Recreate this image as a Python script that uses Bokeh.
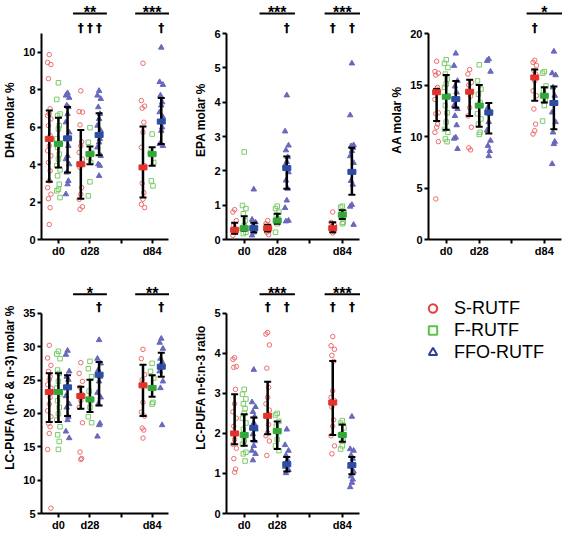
from bokeh.plotting import figure
from bokeh.models import Range1d, FixedTicker, Legend, LegendItem
from bokeh.layouts import column, row
from bokeh.embed import file_html
from bokeh.resources import INLINE
from bokeh.core.properties import value

FONT = "Liberation Sans"
DAG_FONT = "DejaVu Sans"

days = ["d0", "d28", "d84"]
groups = ["S-RUTF", "F-RUTF", "FFO-RUTF"]

# ---------------- DHA ----------------
dha_s = [[9.87, 9.45, 9.34, 8.59, 6.98, 6.71, 6.62, 6.44, 6.08, 5.55, 5.0, 4.74, 4.47, 4.11, 3.67, 3.13, 2.77, 2.42, 2.18, 1.7, 0.8],
         [7.94, 6.83, 6.8, 6.12, 5.22, 5.0, 4.65, 4.29, 3.85, 2.77, 2.42, 2.15, 1.75, 1.61],
         [9.41, 7.42, 7.12, 7.01, 6.26, 5.72, 4.92, 3.94, 3.0, 2.5, 2.15, 1.88, 1.7]]
dha_f = [[8.37, 7.48, 6.7, 6.62, 6.08, 5.9, 5.37, 5.15, 4.92, 4.56, 4.29, 3.94, 3.72, 3.4, 2.95, 2.68, 2.6, 2.24],
         [5.97, 5.19, 4.65, 4.38, 4.11, 3.08, 2.33],
         [5.63, 4.65, 4.11, 3.13, 2.86]]
dha_o = [[7.82, 7.69, 7.57, 7.16, 7.07, 6.7, 6.26, 5.72, 5.37, 5.0, 4.47, 4.29, 4.02, 3.58, 3.13, 2.95, 2.42],
         [7.94, 7.69, 7.51, 7.07, 6.71, 6.44, 6.08, 5.81, 5.55, 5.37, 5.19, 4.92, 4.47, 4.02, 3.94, 3.4],
         [10.25, 8.41, 8.26, 7.69, 7.33, 7.16, 6.8, 6.53, 6.26, 5.99, 5.81, 5.1, 5.0]]
dha_mid = [[5.37, 4.02, 3.85], [5.1, 4.56, 4.56], [5.4, 5.58, 6.3]]
dha_lo = [[3.08, 2.18, 2.24], [3.85, 4.02, 3.94], [3.58, 4.5, 5.1]]
dha_hi = [[6.89, 5.85, 6.03], [6.5, 4.96, 4.92], [7.07, 6.74, 7.55]]
dha_ticks = [0, 2, 4, 6, 8, 10]
dha_stars = ["", "**", "***"]
dha_daggers = [(1, 0), (1, 1), (1, 2), (2, 2)]

# ---------------- EPA ----------------
epa_s = [[0.87, 0.8, 0.55, 0.41, 0.31, 0.21, 0.12],
         [0.55, 0.46, 0.33, 0.21, 0.14],
         [0.8, 0.5, 0.41, 0.31, 0.23, 0.19]]
epa_f = [[2.55, 0.99, 0.9, 0.75, 0.55, 0.41, 0.31, 0.21, 0.17],
         [0.97, 0.9, 0.8, 0.7, 0.6, 0.46, 0.21],
         [0.97, 0.94, 0.8, 0.65, 0.5, 0.46]]
epa_o = [[1.46, 0.58, 0.5, 0.41, 0.31, 0.21, 0.12],
         [4.2, 3.15, 2.74, 2.6, 2.4, 2.26, 2.16, 1.96, 1.72, 1.48, 1.14, 0.92, 0.55, 0.53],
         [5.13, 3.62, 2.75, 2.72, 2.67, 2.58, 2.43, 2.23, 1.71, 1.6, 1.01, 0.96, 0.43]]
epa_mid = [[0.28, 0.33, 0.33], [0.33, 0.55, 0.72], [0.33, 2.08, 1.97]]
epa_lo = [[0.17, 0.23, 0.21], [0.26, 0.46, 0.6], [0.21, 1.48, 1.3]]
epa_hi = [[0.49, 0.43, 0.5], [0.68, 0.75, 0.85], [0.49, 2.42, 2.67]]
epa_ticks = [0, 1, 2, 3, 4, 5, 6]
epa_stars = ["", "***", "***"]
epa_daggers = [(1, 2), (2, 0), (2, 2)]

# ---------------- AA ----------------
aa_s = [[17.3, 16.3, 16.15, 15.96, 14.77, 14.6, 13.6, 12.3, 12.2, 11.2, 10.9, 10.4, 9.5, 3.94],
        [16.5, 16.06, 15.25, 15.0, 13.9, 12.8, 12.0, 10.9, 8.9, 8.7],
        [17.4, 17.2, 16.9, 16.4, 16.06, 15.4, 14.44, 13.96, 12.67, 11.2, 10.56, 10.24]]
aa_f = [[17.45, 17.1, 16.7, 16.06, 15.57, 15.09, 14.77, 13.96, 13.0, 12.3, 11.4, 10.7, 10.4, 9.76, 9.5],
        [16.96, 15.4, 14.6, 14.1, 13.3, 13.0, 12.2, 11.7, 11.2, 10.4, 10.2],
        [16.3, 16.15, 14.9, 14.44, 13.63, 13.0, 11.5]]
aa_o = [[18.06, 16.87, 15.4, 14.86, 14.28, 13.6, 13.0, 12.67, 12.0, 11.1, 9.9, 9.8, 8.8],
        [17.5, 17.35, 16.3, 12.8, 12.2, 11.4, 10.6, 9.6, 9.1, 8.6, 8.1],
        [18.25, 16.15, 15.96, 14.77, 13.96, 13.3, 12.34, 11.4, 10.4, 9.5, 9.27, 7.33]]
aa_mid = [[14.3, 14.35, 15.73], [13.86, 13.0, 13.96], [13.63, 12.34, 13.25]]
aa_lo = [[11.5, 12.0, 13.47], [10.66, 10.95, 13.3], [12.8, 10.3, 10.7]]
aa_hi = [[14.6, 15.5, 16.5], [15.96, 15.0, 14.77], [15.4, 13.25, 14.86]]
aa_ticks = [0, 5, 10, 15, 20]
aa_stars = ["", "", "*"]
aa_daggers = [(2, 0)]

# ---------------- LC-PUFA ----------------
lc_s = [[30.2, 28.3, 27.2, 26.3, 25.5, 25.05, 24.3, 23.8, 23.1, 22.4, 21.4, 20.4, 19.5, 18.5, 18.0, 17.0, 14.6, 5.8],
        [27.6, 26.0, 24.8, 23.9, 22.9, 21.9, 20.9, 18.6, 14.2, 13.25, 13.1],
        [29.6, 28.2, 25.8, 25.05, 24.3, 21.65, 20.2, 19.6, 17.8, 17.5, 16.3]]
lc_f = [[29.3, 28.9, 28.2, 26.5, 26.0, 24.8, 23.8, 22.9, 21.9, 20.9, 19.95, 19.0, 18.0, 16.8, 15.8, 14.6],
        [27.8, 26.7, 25.5, 23.35, 21.9, 20.9, 19.5, 18.6],
        [27.5, 26.3, 25.3, 23.8, 21.65, 21.4]]
lc_o = [[29.4, 28.8, 26.3, 25.5, 25.05, 24.1, 22.6, 21.4, 20.9, 19.5, 19.0, 17.3, 16.3],
        [31.0, 28.2, 27.5, 26.5, 25.5, 24.8, 23.1, 22.4, 21.4, 18.5, 18.25, 16.55],
        [31.2, 30.6, 29.7, 28.2, 27.7, 27.0, 26.3, 24.8, 23.8, 18.25]]
lc_mid = [[23.2, 22.6, 24.2], [23.2, 22.1, 23.8], [23.9, 25.8, 27.0]]
lc_lo = [[18.7, 20.7, 19.6], [18.7, 20.2, 22.5], [19.6, 21.2, 25.5]]
lc_hi = [[26.0, 24.0, 27.3], [26.0, 25.05, 25.7], [25.7, 27.7, 29.1]]
lc_ticks = [5, 10, 15, 20, 25, 30, 35]
lc_stars = ["", "*", "**"]
lc_daggers = [(1, 2), (2, 2)]

# ---------------- n-6:n-3 ratio ----------------
rt_s = [[3.89, 3.85, 3.67, 3.65, 3.1, 2.74, 2.54, 2.38, 2.18, 1.98, 1.85, 1.73, 1.63, 1.37, 1.11, 1.03],
        [4.52, 4.48, 4.21, 3.63, 3.15, 2.9, 2.74, 2.58, 2.42, 2.22, 2.02, 1.94, 1.81, 1.45],
        [4.42, 4.19, 4.1, 3.95, 3.8, 3.06, 2.9, 2.82, 2.66, 2.34, 2.18, 1.94, 1.69, 1.49]]
rt_f = [[3.1, 2.98, 2.86, 2.74, 2.62, 2.5, 2.38, 2.26, 2.1, 1.94, 1.81, 1.73, 1.53, 1.49, 1.31],
        [2.5, 2.46, 2.3, 2.18, 2.02, 1.85, 1.69, 1.57],
        [2.32, 2.26, 2.14, 1.98, 1.81, 1.69, 1.61]]
rt_o = [[3.59, 2.78, 2.66, 2.54, 2.42, 2.26, 2.14, 2.1, 1.98, 1.81, 1.69, 1.57, 1.49, 1.33],
        [2.1, 1.71, 1.57, 1.45, 1.33, 1.25, 1.17, 1.09, 1.01],
        [2.42, 1.61, 1.57, 1.45, 1.37, 1.25, 1.17, 1.05, 0.93, 0.85, 0.77, 0.66]]
rt_mid = [[2.0, 2.44, 2.77], [1.96, 2.06, 1.96], [2.14, 1.23, 1.21]]
rt_lo = [[1.73, 1.98, 1.96], [1.69, 1.61, 1.79], [1.81, 1.05, 0.98]]
rt_hi = [[2.98, 3.29, 3.81], [2.48, 2.3, 2.22], [2.4, 1.41, 1.41]]
rt_ticks = [0, 1, 2, 3, 4, 5]
rt_stars = ["", "***", "***"]
rt_daggers = [(1, 0), (1, 2), (2, 0), (2, 2)]

# ---------------- styling / layout ----------------
GROUP_X = [18.5, 53, 121]
BREAK_X = 87
SPACING = 10
X_END = 140
JIT = [0, -1.8, 1.8, -0.9, 0.9]
BAR_HALF = 18.5

PT_COLORS = ["#EE6B6B", "#7CCB68", "#6868BC"]
MID_COLORS = ["#E4322B", "#33A83A", "#2C4DA3"]
LEG_COLORS = ["#E2403A", "#5DC246", "#2E3E9E"]
MARKERS = ["circle", "square", "triangle"]

TOP_GEO = dict(height=261, bottom=22, ax_top=33, bar_px=13, dag_px=23.5)
BOT_GEO = dict(height=272, bottom=19, ax_top=52, bar_px=33, dag_px=42.5)


def make_panel(width, left, right, geo, ylabel, ylo, yhi, yticks,
               pts, mid, lo, hi, stars, daggers):
    height, bottom = geo["height"], geo["bottom"]
    fh = height - bottom
    scale = (yhi - ylo) / (fh - geo["ax_top"])

    def v(px):
        return ylo + (fh - px) * scale

    p = figure(width=width, height=height,
               x_range=Range1d(0, X_END), y_range=Range1d(ylo, v(0)),
               output_backend="svg", toolbar_location=None,
               min_border_left=left, min_border_right=right,
               min_border_top=0, min_border_bottom=bottom)
    p.outline_line_color = None
    p.xgrid.visible = False
    p.ygrid.visible = False
    p.background_fill_color = "white"
    p.border_fill_color = "white"

    for ax in (p.xaxis[0], p.yaxis[0]):
        ax.axis_line_width = 2
        ax.axis_line_color = "black"
        ax.major_tick_line_width = 2
        ax.major_tick_line_color = "black"
        ax.major_tick_out = 4
        ax.major_tick_in = 0
        ax.minor_tick_out = 0
        ax.minor_tick_in = 0
        ax.major_label_text_font = FONT
        ax.major_label_text_font_style = "bold"
        ax.major_label_text_font_size = "11px"
        ax.major_label_text_color = "black"
        ax.major_label_standoff = 2

    p.yaxis.ticker = FixedTicker(ticks=yticks)
    p.yaxis.bounds = (ylo, yhi)
    p.yaxis.axis_label = ylabel
    p.yaxis.axis_label_text_font = FONT
    p.yaxis.axis_label_text_font_style = "bold"
    p.yaxis.axis_label_text_font_size = "12px"
    p.yaxis.axis_label_text_color = "black"
    p.yaxis.axis_label_standoff = 3

    p.xaxis.ticker = FixedTicker(ticks=GROUP_X + [BREAK_X])
    overrides = {GROUP_X[i]: days[i] for i in range(3)}
    overrides[BREAK_X] = ""
    p.xaxis.major_label_overrides = overrides
    p.xaxis.major_label_standoff = 1
    p.xaxis.bounds = (0, 139)

    # individual points
    for g in range(3):
        xs, ys = [], []
        for d in range(3):
            cx = GROUP_X[d] + (g - 1) * SPACING
            for i, val in enumerate(pts[g][d]):
                xs.append(cx + JIT[i % len(JIT)])
                ys.append(val)
        if MARKERS[g] == "triangle":
            p.scatter(xs, ys, marker="triangle", size=5.5, line_color=PT_COLORS[g],
                      fill_color=PT_COLORS[g], line_width=1)
        else:
            p.scatter(xs, ys, marker=MARKERS[g], size=4.5, line_color=PT_COLORS[g],
                      fill_color=None, line_width=1)

    # central value + interval
    for g in range(3):
        xs = [GROUP_X[d] + (g - 1) * SPACING for d in range(3)]
        p.segment(x0=xs, y0=lo[g], x1=xs, y1=hi[g], line_color="black", line_width=2.5)
        p.scatter(xs, lo[g], marker="dash", size=7, line_color="black", line_width=2)
        p.scatter(xs, hi[g], marker="dash", size=7, line_color="black", line_width=2)
        p.rect(x=xs, y=mid[g], width=8, height=5, width_units="screen", height_units="screen",
               fill_color=MID_COLORS[g], line_color=MID_COLORS[g])

    # significance annotations
    for d in range(3):
        if stars[d]:
            p.segment(x0=[GROUP_X[d] - BAR_HALF], y0=[v(geo["bar_px"])],
                      x1=[GROUP_X[d] + BAR_HALF], y1=[v(geo["bar_px"])],
                      line_color="black", line_width=2)
            p.text(x=[GROUP_X[d]], y=[v(geo["bar_px"] - 1)], text=[stars[d]],
                   text_align="center", text_baseline="alphabetic",
                   text_font=value(FONT), text_font_style="bold",
                   text_font_size="16px", text_color="black")
    for d, g in daggers:
        p.text(x=[GROUP_X[d] + (g - 1) * SPACING], y=[v(geo["dag_px"] + 3.5)], text=["\u2020"],
               text_align="center", text_baseline="alphabetic",
               text_font=value(DAG_FONT), text_font_style="bold",
               text_font_size="12px", text_color="black")
    return p


p1 = make_panel(186, 35, 17, TOP_GEO, "DHA molar %", 0, 11, dha_ticks,
                [dha_s, dha_f, dha_o], dha_mid, dha_lo, dha_hi, dha_stars, dha_daggers)
p2 = make_panel(196, 40, 22, TOP_GEO, "EPA molar %", 0, 6, epa_ticks,
                [epa_s, epa_f, epa_o], epa_mid, epa_lo, epa_hi, epa_stars, epa_daggers)
p3 = make_panel(180, 46, 0, TOP_GEO, "AA molar %", 0, 20, aa_ticks,
                [aa_s, aa_f, aa_o], aa_mid, aa_lo, aa_hi, aa_stars, aa_daggers)
p4 = make_panel(186, 35, 17, BOT_GEO, "LC-PUFA (n-6 & n-3) molar %", 5, 35, lc_ticks,
                [lc_s, lc_f, lc_o], lc_mid, lc_lo, lc_hi, lc_stars, lc_daggers)
p5 = make_panel(196, 40, 22, BOT_GEO, "LC-PUFA n-6:n-3 ratio", 0, 5, rt_ticks,
                [rt_s, rt_f, rt_o], rt_mid, rt_lo, rt_hi, rt_stars, rt_daggers)

# legend panel
p6 = figure(width=180, height=272, x_range=Range1d(0, 1), y_range=Range1d(0, 1),
            x_axis_type=None, y_axis_type=None, output_backend="svg",
            toolbar_location=None, min_border=0)
p6.outline_line_color = None
p6.xgrid.visible = False
p6.ygrid.visible = False
items = []
nan = float("nan")
for g in range(3):
    r = p6.scatter(x=[nan], y=[nan], marker=MARKERS[g], size=8, line_color=LEG_COLORS[g],
                   fill_color=None, line_width=2)
    items.append(LegendItem(label=value(groups[g]), renderers=[r]))
legend = Legend(items=items, location=(40, 150), border_line_color=None,
                background_fill_alpha=0, label_text_font=FONT,
                label_text_font_size="18px", label_text_color="black",
                glyph_width=21, glyph_height=22, spacing=0, padding=0, margin=0,
                label_standoff=11)
p6.add_layout(legend)

layout = column(row(p1, p2, p3), row(p4, p5, p6))

with open("out.html", "w") as f:
    f.write(file_html(layout, INLINE))
